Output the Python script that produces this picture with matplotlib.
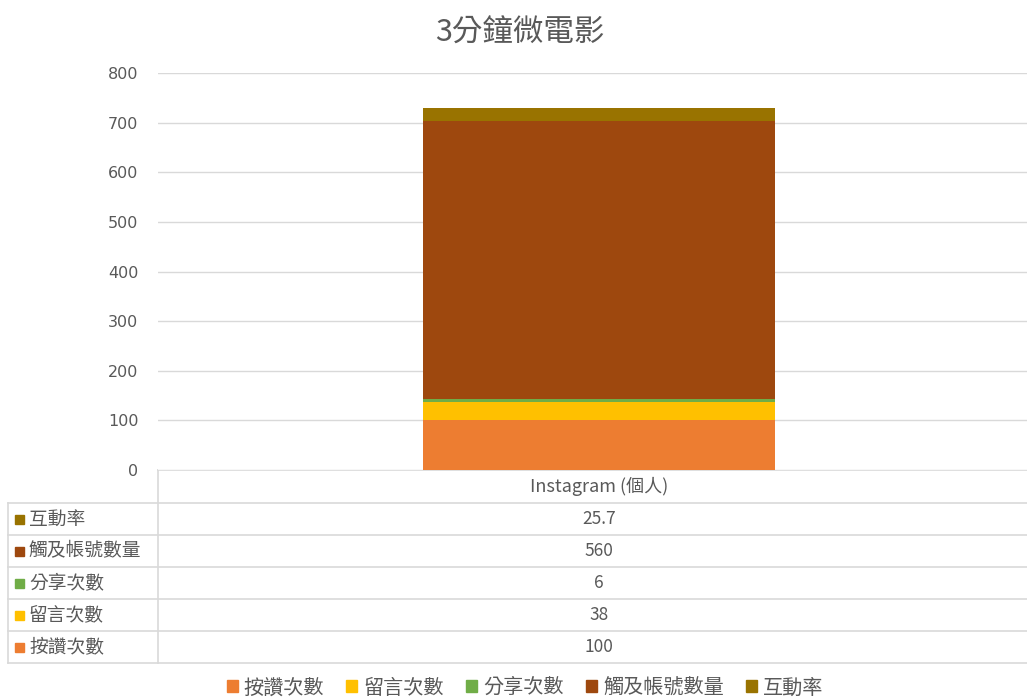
import numpy as np
import matplotlib
matplotlib.use("Agg")
import matplotlib.pyplot as plt
from matplotlib.patches import Patch

plt.rcParams['font.family'] = ['Noto Sans CJK TC', 'DejaVu Sans']

title = "3分鐘微電影"
category = "Instagram (個人)"
series = ["按讚次數", "留言次數", "分享次數", "觸及帳號數量", "互動率"]
values = [100, 38, 6, 560, 25.7]
value_labels = ["100", "38", "6", "560", "25.7"]
colors = ["#ED7D31", "#FFC000", "#70AD47", "#9E480E", "#997300"]
yticks = [0, 100, 200, 300, 400, 500, 600, 700, 800]

W, H = 1027, 698
txt = "#595959"
grid = "#D9D9D9"

fig = plt.figure(figsize=(W / 100, H / 100), dpi=100)

# main plot area (right side runs past the crop, as in the reference)
x0, x1, ytop, ybot = 158, 1040, 73, 470
ax = fig.add_axes([x0 / W, 1 - ybot / H, (x1 - x0) / W, (ybot - ytop) / H])
bottom = 0
for name, v, c in zip(series, values, colors):
    ax.bar(0, v, width=0.4, bottom=bottom, color=c, zorder=3)
    bottom += v
ax.set_xlim(-0.5, 0.5)
ax.set_ylim(0, 800)
ax.set_yticks(yticks)
ax.set_yticklabels([str(t) for t in yticks], color=txt, fontsize=11.5, family='DejaVu Sans')
ax.set_xticks([])
ax.grid(axis='y', color=grid, lw=1, zorder=0)
ax.tick_params(axis='y', length=0, pad=14)
for s in ax.spines.values():
    s.set_visible(False)

fig.text(520 / W, 1 - 33 / H, title, ha='center', va='center', fontsize=22, color=txt)

# data table below the plot, in pixel coordinates
tab = fig.add_axes([0, 0, 1, 1], zorder=-1)
tab.set_xlim(0, W)
tab.set_ylim(H, 0)
tab.axis('off')
row_y = [470, 503, 535, 567, 599, 631, 663]
for y in row_y:
    tab.plot([x0 if y == 470 else 8, W], [y, y], color=grid, lw=1.2)
tab.plot([x0, x0], [470, 663], color=grid, lw=1.2)
tab.plot([8, 8], [503, 663], color=grid, lw=1.2)

xc = (x0 + x1) / 2
tab.text(xc, (row_y[0] + row_y[1]) / 2, category, ha='center', va='center',
         fontsize=13, color=txt)
for i, idx in enumerate(range(len(series) - 1, -1, -1)):
    yc = (row_y[i + 1] + row_y[i + 2]) / 2
    tab.add_patch(plt.Rectangle((15, yc - 4.5), 9, 9, color=colors[idx]))
    tab.text(29, yc, series[idx], ha='left', va='center', fontsize=13.5, color=txt)
    tab.text(xc, yc, value_labels[idx], ha='center', va='center', fontsize=12.5, color=txt)

handles = [Patch(color=c, label=s) for s, c in zip(series, colors)]
fig.legend(handles=handles, loc='center', bbox_to_anchor=(525 / W, 1 - 688 / H),
           ncol=5, frameon=False, fontsize=14.5, handlelength=0.55, handleheight=0.55,
           handletextpad=0.3, columnspacing=1.1, labelcolor=txt)

fig.savefig("out.png", dpi=100)
